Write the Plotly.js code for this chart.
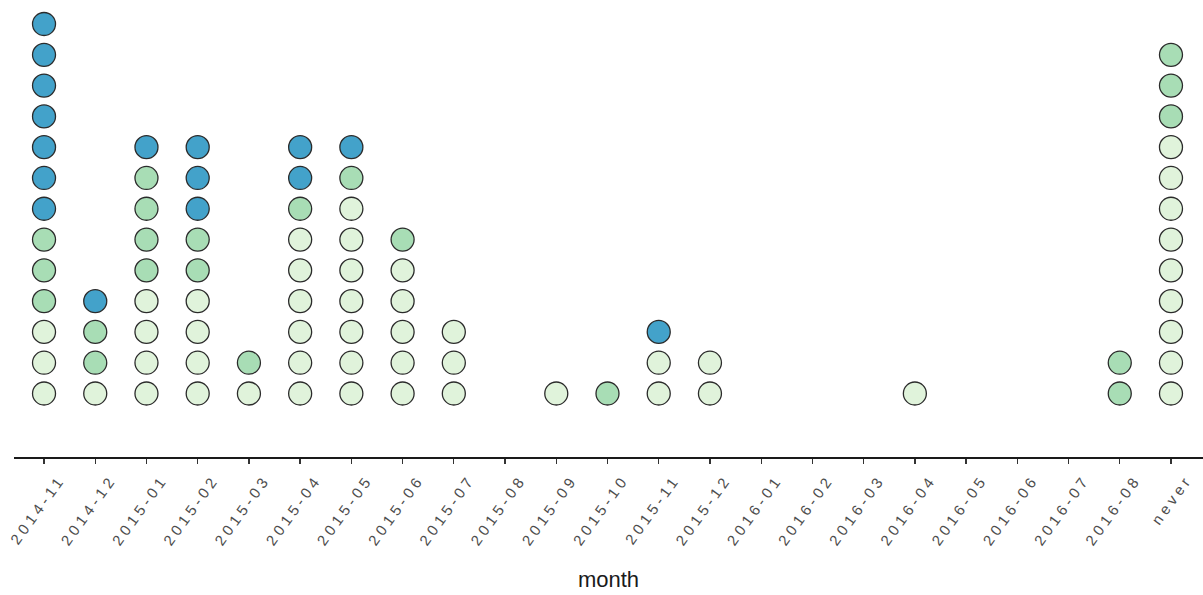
<!DOCTYPE html>
<html>
<head>
<meta charset="utf-8">
<script src="https://cdn.plot.ly/plotly-3.0.1.min.js"></script>
<style>
html,body{margin:0;padding:0;background:#fff;}
#chart{width:1203px;height:595px;}
.xtick text{letter-spacing:4px;}
</style>
</head>
<body>
<div id="chart"></div>
<script>
var months = ["2014-11","2014-12","2015-01","2015-02","2015-03","2015-04","2015-05","2015-06","2015-07","2015-08","2015-09","2015-10","2015-11","2015-12","2016-01","2016-02","2016-03","2016-04","2016-05","2016-06","2016-07","2016-08","never"];
var lightCounts  = [3,1,4,4,1,6,7,5,3,0,1,0,2,2,0,0,0,1,0,0,0,0,9];
var mediumCounts = [3,2,4,2,1,1,1,1,0,0,0,1,0,0,0,0,0,0,0,0,0,2,3];
var blueCounts   = [7,1,1,3,0,2,1,0,0,0,0,0,1,0,0,0,0,0,0,0,0,0,0];
var groupNames = ["light","medium","blue"];
var groupColors = ["#e0f3db","#a8ddb5","#43a2ca"];

var groups = [lightCounts, mediumCounts, blueCounts];
var traces = [];
var base = months.map(function(){return 0;});
groups.forEach(function(counts, g){
  var xs = [], ys = [];
  counts.forEach(function(c, i){
    for (var k = 0; k < c; k++){
      base[i] += 1;
      xs.push(months[i]);
      ys.push(base[i]);
    }
  });
  traces.push({
    type: "scatter",
    mode: "markers",
    name: groupNames[g],
    x: xs, y: ys,
    marker: {size: 23, color: groupColors[g], line: {color: "#2b2b2b", width: 1.3}},
    hoverinfo: "x+y+name"
  });
});

var layout = {
  width: 1203, height: 595,
  margin: {l: 14, r: 0, t: 0, b: 138},
  paper_bgcolor: "#ffffff",
  plot_bgcolor: "#ffffff",
  showlegend: false,
  font: {family: "Liberation Sans, Arial, sans-serif"},
  xaxis: {
    type: "category",
    categoryorder: "array",
    categoryarray: months,
    range: [-0.586, 22.625],
    showgrid: false,
    zeroline: false,
    showline: true,
    linecolor: "#1a1a1a",
    linewidth: 1.6,
    ticks: "outside",
    ticklen: 5,
    tickwidth: 1.3,
    tickcolor: "#333333",
    tickangle: -54,
    ticklabelshift: 16,
    ticklabelstandoff: 1,
    tickfont: {size: 15, color: "#4d4d4d"},
    title: {text: "month", font: {size: 22, color: "#1a1a1a"}, standoff: 24}
  },
  yaxis: {
    range: [-1.062, 13.78],
    visible: false,
    showgrid: false,
    zeroline: false
  }
};

Plotly.newPlot("chart", traces, layout, {displayModeBar: false, staticPlot: true});
</script>
</body>
</html>
